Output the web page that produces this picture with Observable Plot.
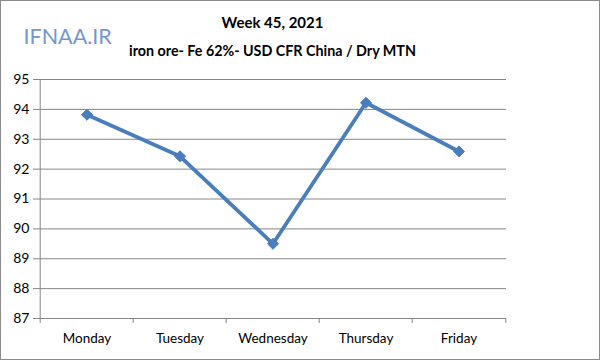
<!DOCTYPE html>
<html><head><meta charset="utf-8">
<script src="https://cdn.jsdelivr.net/npm/d3@7"></script>
<script src="https://cdn.jsdelivr.net/npm/@observablehq/plot@0.6"></script>
<style>
body{margin:0;background:#fff;}
#wrap{position:relative;width:600px;height:360px;}
#border{position:absolute;left:0;top:0;width:598px;height:358px;border:1px solid #8c8c8c;pointer-events:none;}
</style>
</head><body>
<div id="wrap"><div id="chart"></div><div id="border"></div></div>
<script>
const days = ["Monday","Tuesday","Wednesday","Thursday","Friday"];
const prices = [93.82, 92.43, 89.5, 94.22, 92.59];
const yTicks = [87,88,89,90,91,92,93,94,95];
const title = "Week 45, 2021";
const subtitle = "iron ore- Fe 62%- USD CFR China / Dry MTN";
const logo = "IFNAA.IR";

const data = days.map((d,i)=>({day:d, price:prices[i]}));
const bw = (506-38)/days.length;

const chart = Plot.plot({
  width: 600, height: 360,
  marginLeft: 38, marginRight: 94, marginTop: 79, marginBottom: 42,
  style: {fontFamily: "Lato, 'Open Sans', sans-serif", fontSize: "13.5px", color: "#000", background: "#fff"},
  x: {type: "band", domain: days, padding: 0, label: null},
  y: {domain: [87, 95], ticks: yTicks, label: null},
  marks: [
    Plot.gridY(yTicks, {stroke: "#868686", strokeOpacity: 1, strokeWidth: 1}),
    Plot.ruleX([days[0]], {dx: -bw/2, stroke: "#868686"}),
    Plot.ruleY([87], {stroke: "#868686", insetLeft: -5}),
    Plot.ruleX(days, {dx: -bw/2, y1: 87, y2: 87, insetBottom: -5, stroke: "#868686"}),
    Plot.ruleX([days[days.length-1]], {dx: bw/2, y1: 87, y2: 87, insetBottom: -5, stroke: "#868686"}),
    Plot.axisY(yTicks, {tickSize: 5, tickPadding: 4, stroke: "#868686", fontSize: 14, fill: "#000", label: null}),
    Plot.axisX({tickSize: 0, tickPadding: 15, fontSize: 13.5, fill: "#000", label: null}),
    Plot.line(data, {x: "day", y: "price", stroke: "#4a7ebb", strokeWidth: 3.8}),
    Plot.dot(data, {x: "day", y: "price", symbol: "diamond2", r: 5, fill: "#4a7ebb", stroke: "#4a7ebb", strokeWidth: 1}),
    Plot.text([title], {frameAnchor: "top", dy: -62, text: d=>d, fontSize: 15, fontWeight: "bold", fill: "#000"}),
    Plot.text([subtitle], {frameAnchor: "top", dy: -34, text: d=>d, fontSize: 14.3, fontWeight: "bold", fill: "#000"}),
    Plot.text([logo], {frameAnchor: "top-left", dx: -15, dy: -51, text: d=>d, fontSize: 21.5, fill: "#7497d0", textAnchor: "start"})
  ]
});
document.getElementById("chart").appendChild(chart);
</script>
</body></html>
